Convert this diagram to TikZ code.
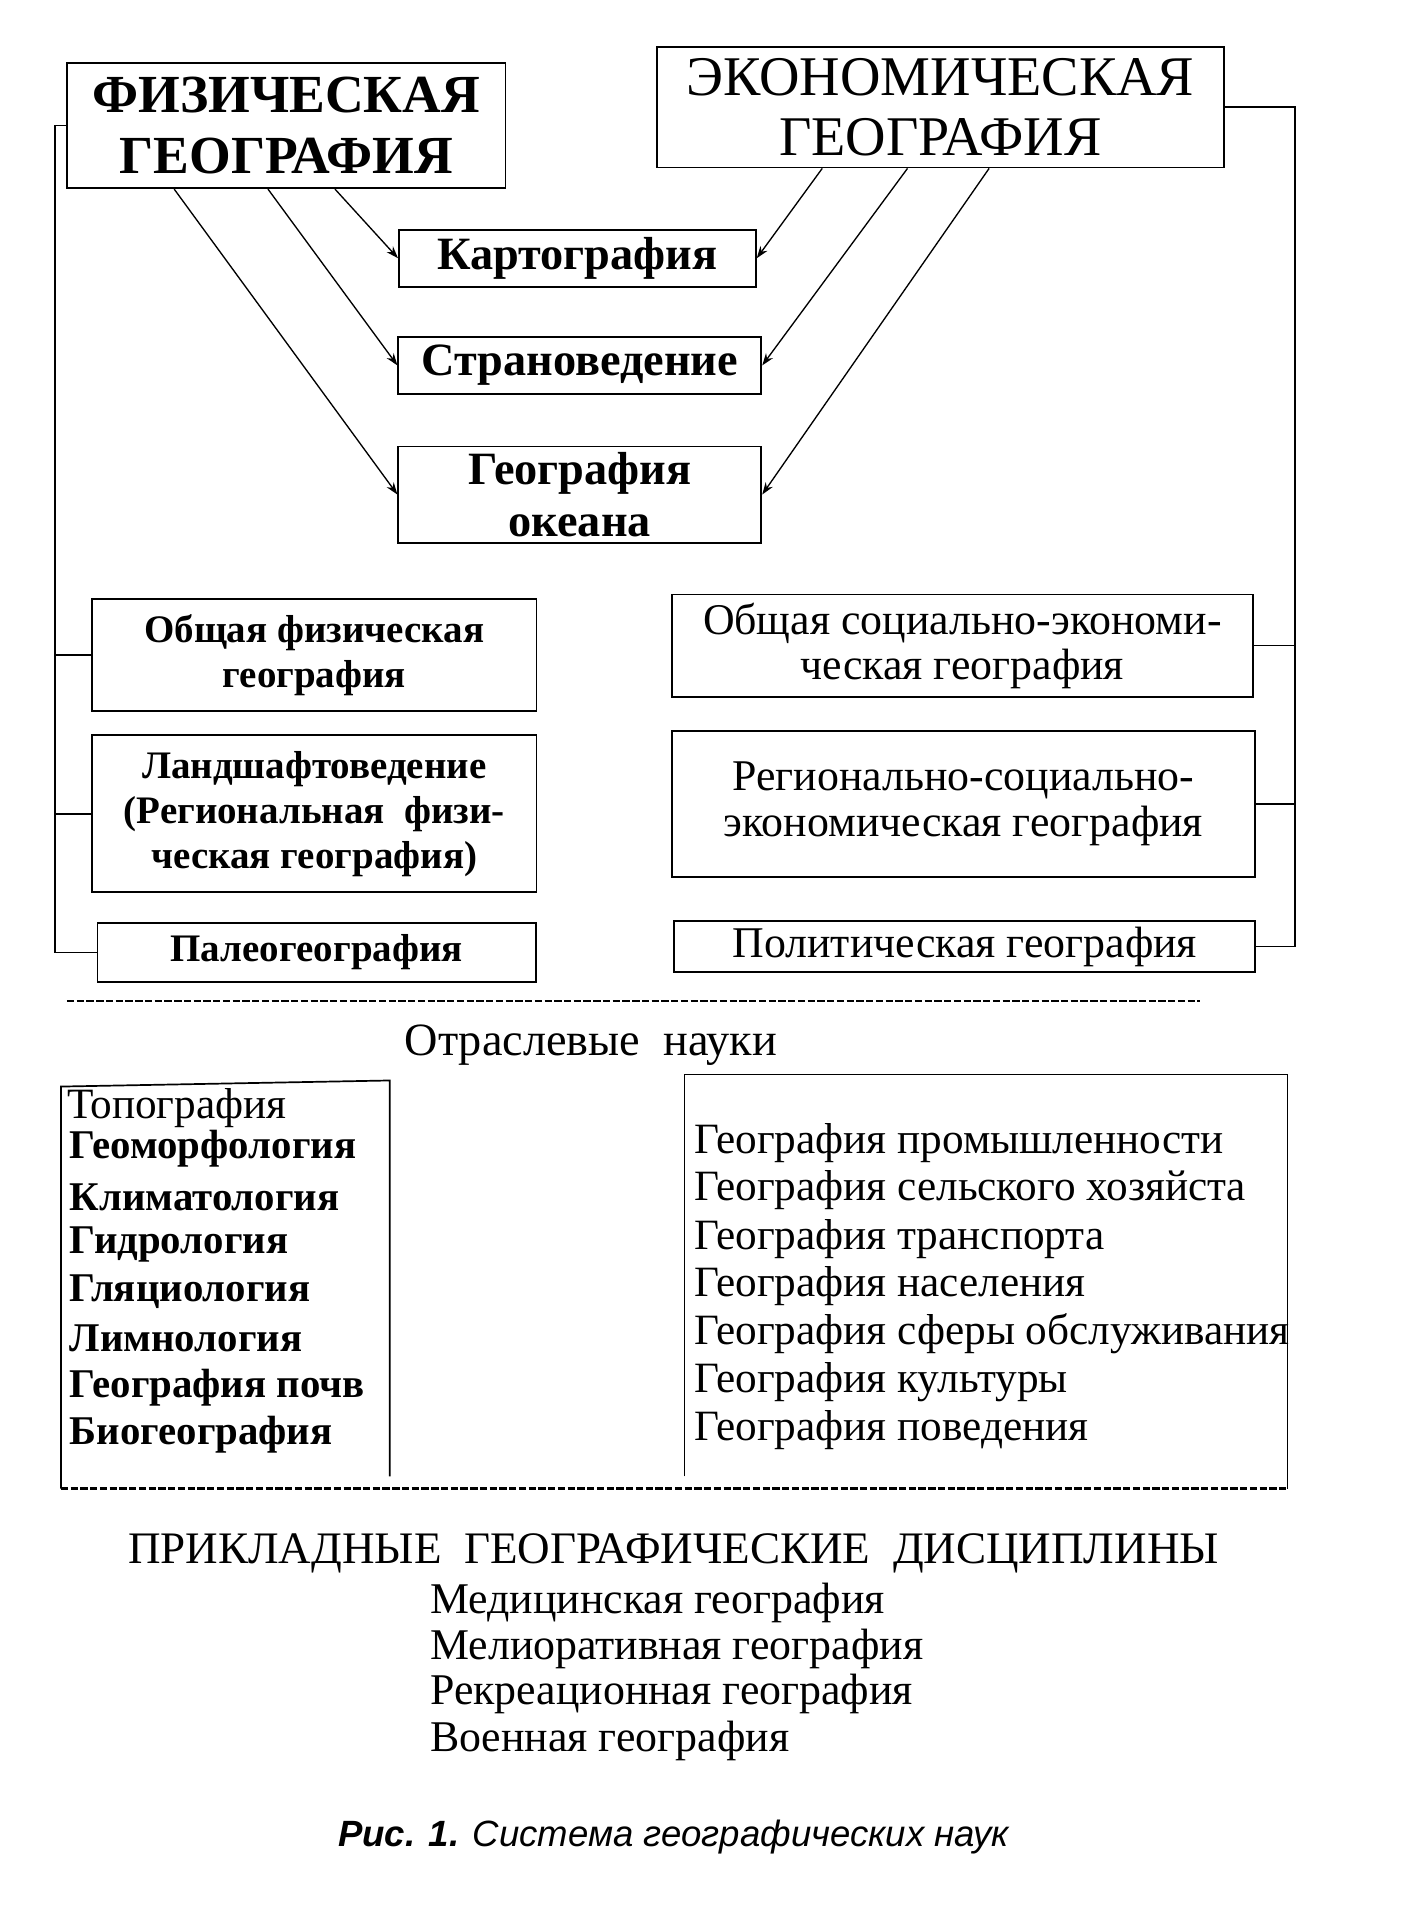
\documentclass[tikz,border=0pt]{standalone}
\usepackage{fontspec}
\setmainfont{Liberation Serif}
\newfontfamily\capfont{Liberation Sans}
\usetikzlibrary{arrows.meta}

\begin{document}
\begin{tikzpicture}[
    x=1pt, y=-1pt,
    box/.style={
        draw,
        line width=1.5pt,
        align=center,
        inner sep=2pt,
        font=\fontsize{36}{37}\selectfont
    },
    boldbox/.style={
        box,
        font=\bfseries\fontsize{32}{37}\selectfont
    },
    head/.style={
        box,
        font=\fontsize{46}{50}\selectfont
    },
    mid/.style={
        box,
        font=\bfseries\fontsize{38}{43}\selectfont
    },
    item/.style={
        anchor=west,
        inner sep=0pt,
        font=\fontsize{35.5}{38}\selectfont
    },
    arr/.style={
        -{Stealth[length=10pt,width=7pt]},
        line width=1.1pt
    },
    link/.style={
        line width=1.4pt
    }
]
\useasboundingbox (0,0) rectangle (1151,1568);

% ============================================================
% TWO MAIN BRANCHES
% ============================================================

\node[head, font=\bfseries\fontsize{44}{50}\selectfont,
      minimum width=360pt, minimum height=103pt] (phys) at (235,103)
{ФИЗИЧЕСКАЯ\\ГЕОГРАФИЯ};

\node[head, minimum width=465pt, minimum height=99pt] (econ) at (772,88)
{ЭКОНОМИЧЕСКАЯ\\ГЕОГРАФИЯ};

% Shared disciplines in the middle
\node[mid, minimum width=293pt, minimum height=47pt] (kart) at (474,212)
{Картография};

\node[mid, minimum width=298pt, minimum height=47pt] (stran) at (476,300)
{Страноведение};

\node[mid, minimum width=298pt, minimum height=79pt] (ocean) at (476,406)
{География\\океана};

% Arrows
\draw[arr] ([xshift=40pt]phys.south) -- (kart.west);
\draw[arr] ([xshift=-15pt]phys.south) -- (stran.west);
\draw[arr] ([xshift=-92pt]phys.south) -- (ocean.west);
\draw[arr] ([xshift=-97pt]econ.south) -- (kart.east);
\draw[arr] ([xshift=-27pt]econ.south) -- (stran.east);
\draw[arr] ([xshift=40pt]econ.south) -- (ocean.east);

% ============================================================
% SUB-DISCIPLINES, LEFT AND RIGHT
% ============================================================

\node[boldbox, minimum width=365pt, minimum height=92pt] (obfiz) at (258,538)
{Общая физическая\\география};

\node[boldbox, minimum width=365pt, minimum height=129pt] (landsh) at (258,668)
{Ландшафтоведение\\(Региональная\ \ физи-\\ческая география)};

\node[boldbox, minimum width=360pt, minimum height=48pt] (paleo) at (260,782)
{Палеогеография};

\node[box, minimum width=477pt, minimum height=84pt] (obsoc) at (790,530)
{Общая социально-экономи-\\ческая география};

\node[box, minimum width=479pt, minimum height=120pt, font=\fontsize{36}{38}\selectfont] (region) at (791,660)
{Регионально-социально-\\экономическая география};

\node[box, minimum width=477pt, minimum height=42pt] (polit) at (792,777)
{Политическая география};

% Brackets
\coordinate (lbar) at (45,0);
\coordinate (rbar) at (1063,0);

\draw[link] (phys.west) -| (lbar |- paleo.west) -- (paleo.west);
\draw[link] (lbar |- obfiz.west) -- (obfiz.west);
\draw[link] (lbar |- landsh.west) -- (landsh.west);

\draw[link] (econ.east) -| (rbar |- polit.east) -- (polit.east);
\draw[link] (obsoc.east) -- (rbar |- obsoc.east);
\draw[link] (region.east) -- (rbar |- region.east);

% Separator
\coordinate (sepl) at (55,822);
\coordinate (sepr) at (985,822);
\draw[line width=1.8pt, dash pattern=on 6pt off 2pt] (sepl) -- (sepr);

% ============================================================
% BRANCH SCIENCES
% ============================================================

\node[font=\fontsize{38}{40}\selectfont] (branch) at (485,858)
{Отраслевые\ \ науки};

\node[item] (fl1) at (55,910) {Топография};
\foreach \t/\yy [count=\i from 2] in {
    Геоморфология/943, Климатология/983, Гидрология/1022,
    Гляциология/1060, Лимнология/1099, География почв/1139,
    Биогеография/1178}
    \node[item, font=\bfseries\fontsize{33.5}{38}\selectfont] (fl\i) at (57,\yy) {\t};

\foreach \t/\yy [count=\i] in {
    География промышленности/938, География сельского хозяйста/977,
    География транспорта/1017, География населения/1056,
    География сферы обслуживания/1095, География культуры/1135,
    География поведения/1174}
    \node[item] (el\i) at (570,\yy) {\t};

% frames of the two lists
\draw[link] (50,1222) -- (50,892) -- (320,887) -- (320,1212);
\draw[link] (562,1212) -- (562,882) -- (1057,882) -- (1057,1222);
\draw[line width=1.8pt, dash pattern=on 6pt off 2pt] (50,1222) -- (1057,1222);

% ============================================================
% APPLIED DISCIPLINES
% ============================================================

\node[font=\fontsize{37}{40}\selectfont] (appl) at (553,1275)
{ПРИКЛАДНЫЕ\ \ ГЕОГРАФИЧЕСКИЕ\ \ ДИСЦИПЛИНЫ};

\foreach \t/\yy [count=\i] in {
    Медицинская география/1316, Мелиоративная география/1354,
    Рекреационная география/1391, Военная география/1429}
    \node[item, font=\fontsize{36}{38}\selectfont] (ap\i) at (353,\yy) {\t};

\node[font=\capfont\itshape\fontsize{30}{32}\selectfont] (caption) at (553,1508)
{\textbf{Рис. 1.} Система географических наук};

\end{tikzpicture}
\end{document}
